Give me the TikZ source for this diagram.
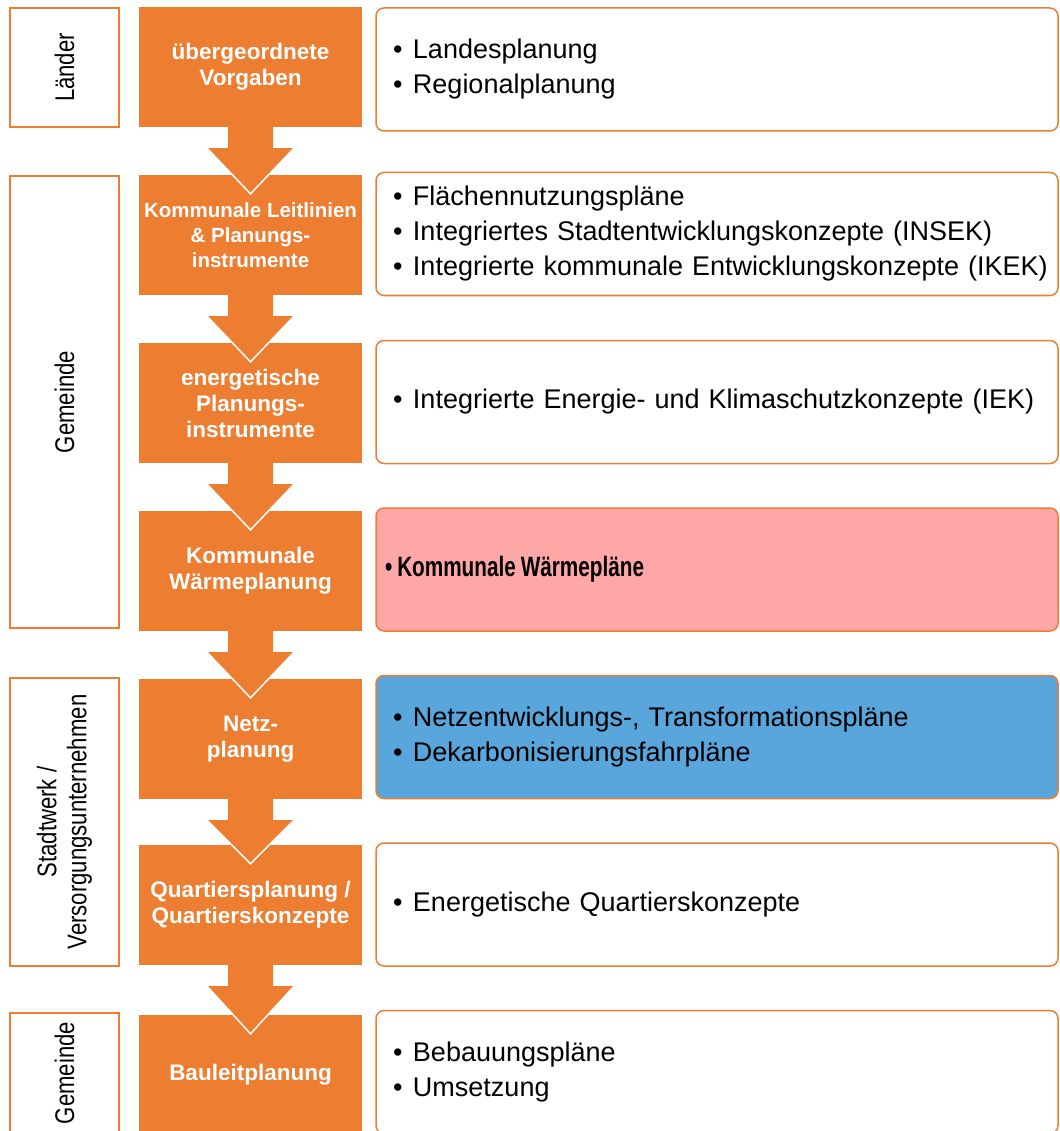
\documentclass[tikz,border=0pt]{standalone}
\usepackage{fontspec}
\setmainfont{Liberation Sans}
\newfontfamily\schmal{Liberation Sans}[FakeStretch=0.82]
\newfontfamily\schmalfett{Liberation Sans Bold}[FakeStretch=0.74]
\usetikzlibrary{calc}
\definecolor{orangeblock}{HTML}{ED7D31}
\definecolor{rosa}{HTML}{FFA7A7}
\definecolor{hellblau}{HTML}{58A6DB}
\newcommand{\pkt}[1]{\mbox{\makebox[20pt][l]{•}#1}}
\newcommand{\stufenpfeil}[2]{%
  \fill[orangeblock] ($(#1.south)+(-22.5,-1)$) -- ($(#1.south)+(-22.5,21)$) -- ($(#1.south)+(-43.5,21)$)
    -- ($(#2.north)+(0,19)$) -- ($(#1.south)+(43.5,21)$) -- ($(#1.south)+(22.5,21)$) -- ($(#1.south)+(22.5,-1)$) -- cycle;
  \draw[white, line width=1.5pt] ($(#1.south)+(-43.5,21)$) -- ($(#2.north)+(0,19)$) -- ($(#1.south)+(43.5,21)$);}

\begin{document}
\begin{tikzpicture}[x=1pt,y=-1pt,
  block/.style={fill=orangeblock, text=white, minimum width=223pt, minimum height=120pt, inner sep=0pt,
    align=center, font=\fontsize{22.5}{26}\selectfont\bfseries},
  ebene/.style={draw=orangeblock, line width=1.8pt, fill=white, rotate=90, minimum height=109pt, inner sep=0pt,
    align=center, font=\schmal\fontsize{27}{30}\selectfont},
  info/.style={draw=orangeblock, line width=1.5pt, fill=white, rounded corners=8pt, minimum height=123pt,
    text width=648pt, inner xsep=17pt, inner ysep=0pt, align=left, font=\fontsize{27}{35}\selectfont}]
\useasboundingbox (0,0) rectangle (1059,1131);
\clip (0,0) rectangle (1059,1131);

% Ebenen links
\node[ebene, minimum width=119pt] (laender) at (64.5,67.5) {Länder};
\node[ebene, minimum width=452pt] (gemeinde) at (64.5,402) {Gemeinde};
\node[ebene, minimum width=288pt] (stadtwerk) at (64.5,822) {Stadtwerk /\\Versorgungsunternehmen};
\node[ebene, minimum width=120pt] (gemeindeb) at (64.5,1073) {Gemeinde};

% Planungsschritte
\node[block] (b1) at (250.5,67) {übergeordnete\\Vorgaben};
\node[block, font=\fontsize{20.5}{25}\selectfont\bfseries] (b2) at (250.5,235) {Kommunale Leitlinien\\\& Planungs-\\instrumente};
\node[block] (b3) at (250.5,403) {energetische\\Planungs-\\instrumente};
\node[block] (b4) at (250.5,571) {Kommunale\\Wärmeplanung};
\node[block] (b5) at (250.5,739) {Netz-\\planung};
\node[block] (b6) at (250.5,905) {Quartiersplanung /\\Quartierskonzepte};
\node[block] (b7) at (250.5,1075) {Bauleitplanung};

% Instrumente rechts
\node[info] (r1) at (717,69.5) {\pkt{Landesplanung}\\\pkt{Regionalplanung}};
\node[info] (r2) at (717,234) {\pkt{Flächennutzungspläne}\\\pkt{Integriertes Stadtentwicklungskonzepte (INSEK)}\\\pkt{Integrierte kommunale Entwicklungskonzepte (IKEK)}};
\node[info] (r3) at (717,402) {\pkt{Integrierte Energie- und Klimaschutzkonzepte (IEK)}};
\node[info, fill=rosa] (r4) at (717,569.5) {\hspace*{-8pt}{\schmalfett\fontsize{28}{32}\selectfont •\hspace{5pt}Kommunale\hspace{5pt}Wärmepläne}};
\node[info, fill=hellblau] (r5) at (717,737) {\pkt{Netzentwicklungs-, Transformationspläne}\\\pkt{Dekarbonisierungsfahrpläne}};
\node[info] (r6) at (717,904.5) {\pkt{Energetische Quartierskonzepte}};
\node[info] (r7) at (717,1072) {\pkt{Bebauungspläne}\\\pkt{Umsetzung}};

% Pfeile
\stufenpfeil{b1}{b2}
\stufenpfeil{b2}{b3}
\stufenpfeil{b3}{b4}
\stufenpfeil{b4}{b5}
\stufenpfeil{b5}{b6}
\stufenpfeil{b6}{b7}
\end{tikzpicture}
\end{document}
